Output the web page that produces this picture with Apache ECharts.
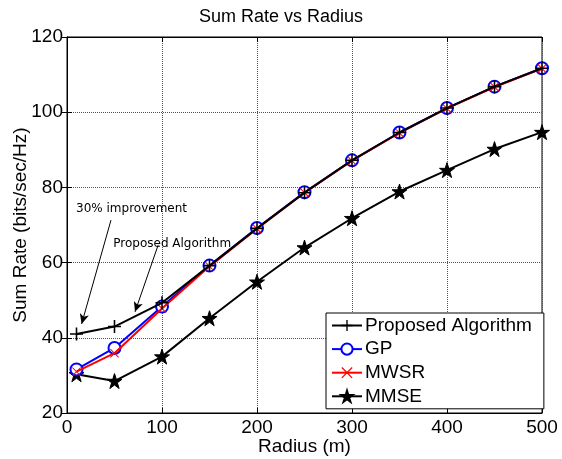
<!DOCTYPE html>
<html><head><meta charset="utf-8">
<script src="https://cdn.jsdelivr.net/npm/echarts@6/dist/echarts.min.js"></script>
<style>html,body{margin:0;padding:0;background:#fff}#c{width:562px;height:459px}</style>
</head><body><div id="c"></div>
<script>
var radius = [10, 50, 100, 150, 200, 250, 300, 350, 400, 450, 500];
var proposed = [41, 43, 49.3, 59.2, 69.1, 78.6, 87.2, 94.6, 101.1, 106.8, 111.7];
var gp = [31.6, 37.3, 48.3, 59.2, 69.2, 78.7, 87.2, 94.6, 101.1, 106.8, 111.7];
var mwsr = [31.0, 35.9, 47.8, 59.0, 69.0, 78.6, 87.1, 94.5, 101.0, 106.7, 111.6];
var mmse = [30.3, 28.5, 35.0, 45.2, 54.9, 64.0, 71.8, 78.9, 84.6, 90.2, 94.7];
var xTicks = [0, 100, 200, 300, 400, 500];
var yTicks = [20, 40, 60, 80, 100, 120];
var title = 'Sum Rate vs Radius';
var xName = 'Radius (m)';
var yName = 'Sum Rate (bits/sec/Hz)';
var names = ['Proposed Algorithm', 'GP', 'MWSR', 'MMSE'];
var notes = [
  {text: '30% improvement', at: [9.5, 74.2], from: [46.3, 71.3], to: [15.4, 43.7]},
  {text: 'Proposed Algorithm', at: [48.7, 65.1], from: [96, 64.7], to: [71.6, 46.9]}
];

function pairs(ys){ return radius.map(function(x,i){return [x, ys[i]];}); }
var plusPath = 'path://M-0.12,-1L0.12,-1L0.12,1L-0.12,1Z M-1,-0.12L1,-0.12L1,0.12L-1,0.12Z';
var crossPath = 'path://M-1,-0.84L-0.84,-1L1,0.84L0.84,1Z M0.84,-1L1,-0.84L-0.84,1L-1,0.84Z';
var starPath = 'path://M0,-1L0.2245,-0.309L0.951,-0.309L0.363,0.118L0.588,0.809L0,0.382L-0.588,0.809L-0.363,0.118L-0.951,-0.309L-0.2245,-0.309Z';
var font = 'Liberation Sans, Arial, sans-serif';

var chart = echarts.init(document.getElementById('c'), null, {renderer:'canvas'});
var xMin = xTicks[0], xMax = xTicks[xTicks.length-1], xInt = xTicks[1]-xTicks[0];
var yMin = yTicks[0], yMax = yTicks[yTicks.length-1], yInt = yTicks[1]-yTicks[0];
var grid = {type:'dotted', color:'#555', width:1};
chart.setOption({
  animation: false,
  backgroundColor: '#fff',
  title: {text: title, left: 'center', top: 3, textStyle:{fontFamily:font, fontSize:18, fontWeight:'normal', color:'#000'}},
  grid: {left: 67, right: 20, top: 37, bottom: 46, show: true, borderColor:'#000', borderWidth:1, containLabel:false, outerBoundsMode:'none'},
  xAxis: [{
    type:'value', min:xMin, max:xMax, interval:xInt,
    name: xName, nameLocation:'middle', nameGap: 24, nameMoveOverlap:false,
    nameTextStyle:{fontFamily:font, fontSize:19, color:'#000'},
    axisLine:{show:true, lineStyle:{color:'#000'}},
    axisTick:{show:true, inside:true, length:5, lineStyle:{color:'#000'}},
    axisLabel:{fontFamily:font, fontSize:19, color:'#000', margin:5},
    splitLine:{show:true, lineStyle:grid}
  },{
    type:'value', position:'top', min:xMin, max:xMax, interval:xInt,
    axisLine:{show:true, lineStyle:{color:'#000'}},
    axisTick:{show:true, inside:true, length:5, lineStyle:{color:'#000'}},
    axisLabel:{show:false}, splitLine:{show:false}
  }],
  yAxis: [{
    type:'value', min:yMin, max:yMax, interval:yInt,
    name: yName, nameLocation:'middle', nameGap: 37, nameRotate: 90, nameMoveOverlap:false,
    nameTextStyle:{fontFamily:font, fontSize:19, color:'#000'},
    axisLine:{show:true, lineStyle:{color:'#000'}},
    axisTick:{show:true, inside:true, length:5, lineStyle:{color:'#000'}},
    axisLabel:{fontFamily:font, fontSize:19, color:'#000', margin:4},
    splitLine:{show:true, lineStyle:grid}
  },{
    type:'value', position:'right', min:yMin, max:yMax, interval:yInt,
    axisLine:{show:true, lineStyle:{color:'#000'}},
    axisTick:{show:true, inside:true, length:5, lineStyle:{color:'#000'}},
    axisLabel:{show:false}, splitLine:{show:false}
  }],
  legend: {
    data: names, orient:'vertical', left: 326, top: 313,
    selectedMode:false,
    backgroundColor:'#fff', borderColor:'#000', borderWidth:1,
    padding:[3, 12, 3, 5], itemGap: 4.6, itemWidth: 30, itemHeight: 14,
    textStyle:{fontFamily:font, fontSize:19, color:'#000', lineHeight:18, padding:[0,0,0,-2]}
  },
  series: [
    {name:'MMSE', type:'line', data:pairs(mmse), symbol:starPath, symbolSize:15,
     lineStyle:{color:'#000', width:2}, itemStyle:{color:'#000', borderColor:'#000', borderWidth:1}, z:2},
    {name:'GP', type:'line', data:pairs(gp), symbol:'emptyCircle', symbolSize:12,
     lineStyle:{color:'#0000ff', width:2}, itemStyle:{color:'#0000ff', borderColor:'#0000ff', borderWidth:2}, z:3},
    {name:'MWSR', type:'line', data:pairs(mwsr), symbol:crossPath, symbolSize:9,
     lineStyle:{color:'#ff0000', width:2}, itemStyle:{color:'#ff0000'}, z:4},
    {name:'Proposed Algorithm', type:'line', data:pairs(proposed), symbol:plusPath, symbolSize:13,
     lineStyle:{color:'#000', width:2}, itemStyle:{color:'#000'}, z:5,
     markLine:{silent:true, symbol:['none','arrow'], symbolSize:[7,10], label:{show:false},
       lineStyle:{color:'#000', width:1, type:'solid'},
       data: notes.map(function(n){return [{coord:n.from},{coord:n.to}];})},
     markPoint:{silent:true, symbol:'circle', symbolSize:0,
       label:{show:true, position:'right', distance:0, fontFamily:'DejaVu Sans, sans-serif', fontSize:12, color:'#000'},
       data: notes.map(function(n){return {coord:n.at, value:n.text, label:{formatter:n.text}};})}
    }
  ]
});
</script></body></html>
